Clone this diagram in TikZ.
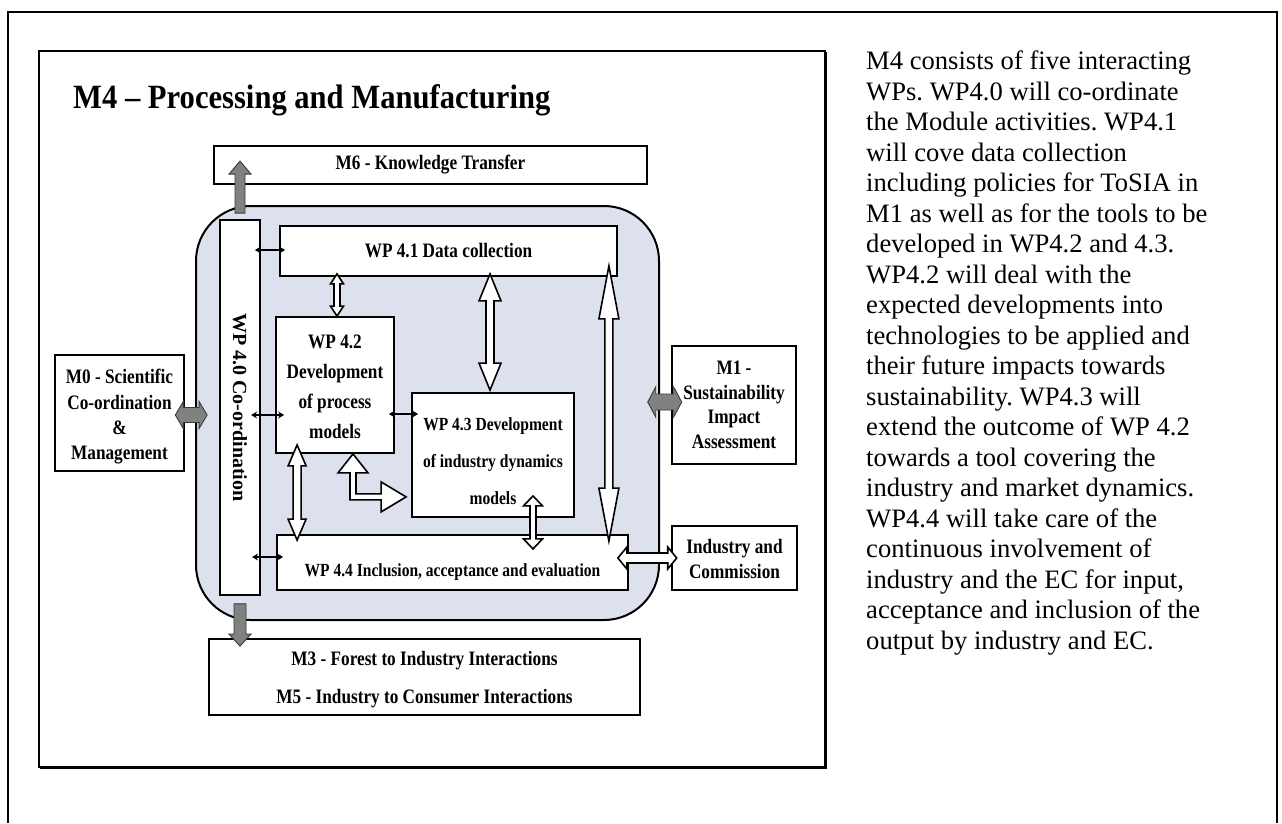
\documentclass[tikz,border=0pt]{standalone}
\usepackage{fontspec}
\setmainfont{Liberation Serif}
\newfontfamily\lblfont[FakeStretch=0.84]{Liberation Serif}
\newfontfamily\ttlfont[FakeStretch=0.9]{Liberation Serif}
\usetikzlibrary{calc,arrows.meta}
\definecolor{panelfill}{RGB}{220,225,237}
\definecolor{blockgray}{RGB}{128,130,128}
\frenchspacing

% vertical arrow with a head at both ends: style, end A, end B, shaft half width, head half width, head length
\newcommand\vdouble[6]{%
  \path[#1] let \p1=#2, \p2=#3, \n1={sign(\y2-\y1)} in
    (\x1,\y1) -- (\x1+#5pt,\y1+\n1*#6pt) -- (\x1+#4pt,\y1+\n1*#6pt)
    -- (\x1+#4pt,\y2-\n1*#6pt) -- (\x1+#5pt,\y2-\n1*#6pt) -- (\x1,\y2)
    -- (\x1-#5pt,\y2-\n1*#6pt) -- (\x1-#4pt,\y2-\n1*#6pt)
    -- (\x1-#4pt,\y1+\n1*#6pt) -- (\x1-#5pt,\y1+\n1*#6pt) -- cycle;}
% horizontal arrow with a head at both ends
\newcommand\hdouble[6]{%
  \path[#1] let \p1=#2, \p2=#3, \n1={sign(\x2-\x1)} in
    (\x1,\y1) -- (\x1+\n1*#6pt,\y1+#5pt) -- (\x1+\n1*#6pt,\y1+#4pt)
    -- (\x2-\n1*#6pt,\y1+#4pt) -- (\x2-\n1*#6pt,\y1+#5pt) -- (\x2,\y1)
    -- (\x2-\n1*#6pt,\y1-#5pt) -- (\x2-\n1*#6pt,\y1-#4pt)
    -- (\x1+\n1*#6pt,\y1-#4pt) -- (\x1+\n1*#6pt,\y1-#5pt) -- cycle;}
% vertical arrow with one head: style, tail, tip, shaft half width, head half width, head length
\newcommand\vsingle[6]{%
  \path[#1] let \p1=#2, \p2=#3, \n1={sign(\y2-\y1)} in
    (\x1-#4pt,\y1) -- (\x1-#4pt,\y2-\n1*#6pt) -- (\x1-#5pt,\y2-\n1*#6pt)
    -- (\x1,\y2) -- (\x1+#5pt,\y2-\n1*#6pt) -- (\x1+#4pt,\y2-\n1*#6pt)
    -- (\x1+#4pt,\y1) -- cycle;}
% L-shaped arrow: head pointing up at the first end, head pointing right at the second
\newcommand\bentarrow[3]{%
  \path[#1] let \p1=#2, \p2=#3 in
    (\x1,\y1) -- (\x1+15pt,\y1-19pt) -- (\x1+3pt,\y1-19pt)
    -- (\x1+3pt,\y2+3pt) -- (\x2-25pt,\y2+3pt) -- (\x2-25pt,\y2+15pt)
    -- (\x2,\y2) -- (\x2-25pt,\y2-15pt) -- (\x2-25pt,\y2-3pt)
    -- (\x1-3pt,\y2-3pt) -- (\x1-3pt,\y1-19pt) -- (\x1-15pt,\y1-19pt) -- cycle;}

\begin{document}
\begin{tikzpicture}[x=1pt,y=-1pt,
  lbl/.style={font=\lblfont\bfseries\fontsize{20.5}{25}\selectfont},
  box/.style={draw=black, line width=1.8pt, fill=white, inner sep=0pt,
    align=center, lbl},
  heavybox/.style={box, line width=2.6pt},
  panel/.style={draw=black, line width=2pt, fill=panelfill, rounded corners=55pt,
    inner sep=0pt},
  hollow/.style={draw=black, line width=1.6pt, fill=white, line join=miter},
  block/.style={draw=gray!45!black, line width=0.9pt, fill=blockgray},
  thin/.style={{Stealth[length=6pt,width=7pt]}-{Stealth[length=6pt,width=7pt]},
    line width=1.3pt},
]
\useasboundingbox (0,0) rectangle (1282,823);

% page frame and figure frame with its shadow
\draw[line width=1.3pt] (8,823) -- (8,12) -- (1277,12) -- (1277,823);
\draw[line width=1.2pt] (39,51) rectangle (825,767);
\draw[line width=3pt] (40,767) -- (825,767) -- (825,52);

% title
\node[anchor=base west, inner sep=0pt,
  font=\ttlfont\bfseries\fontsize{34}{40}\selectfont] (title) at (73,108)
  {M4 – Processing and Manufacturing};

% module M4 panel
\node[panel, minimum width=463pt, minimum height=414pt] (m4) at (427.5,413) {};

% surrounding modules
\node[box, minimum width=433pt, minimum height=38pt] (m6) at (430.5,165)
  {M6 - Knowledge Transfer};
\node[box, minimum width=431pt, minimum height=76pt,
  font=\lblfont\bfseries\fontsize{20.5}{38}\selectfont] (m3) at (424.5,677)
  {\rule{0pt}{19pt}M3 - Forest to Industry Interactions\\M5 - Industry to Consumer Interactions};
\node[heavybox, minimum width=129pt, minimum height=116pt,
  font=\lblfont\bfseries\fontsize{20.5}{25.3}\selectfont] (m0) at (119.5,413)
  {\rule{0pt}{22pt}M0 - Scientific\\Co-ordination\\\&\\Management};
\node[heavybox, minimum width=124pt, minimum height=118pt,
  font=\lblfont\bfseries\fontsize{20.5}{24.5}\selectfont] (m1) at (734,405)
  {M1 -\\Sustainability\\Impact\\Assessment};
\node[heavybox, minimum width=125pt, minimum height=64pt,
  font=\lblfont\bfseries\fontsize{20.5}{25}\selectfont] (ind) at (734.5,558)
  {\rule{0pt}{17pt}Industry and\\Commission};

% work packages
\node[box, minimum width=40pt, minimum height=375pt] (wp40) at (240,407.5) {};
\node[rotate=-90, inner sep=0pt, font=\bfseries\fontsize{20}{24}\selectfont]
  (wp40t) at (wp40.center) {WP 4.0 Co-ordination};
\node[box, minimum width=337pt, minimum height=50pt] (wp41) at (448.5,251)
  {WP 4.1 Data collection};
\node[box, minimum width=118pt, minimum height=136pt,
  font=\lblfont\bfseries\fontsize{20.5}{30}\selectfont] (wp42) at (335,385)
  {\rule{0pt}{18pt}WP 4.2\\Development\\of process\\models};
\node[box, minimum width=162pt, minimum height=124pt,
  font=\lblfont\bfseries\fontsize{18.5}{37}\selectfont] (wp43) at (493,455)
  {\rule{0pt}{25pt}WP 4.3 Development\\of industry dynamics\\models};
\node[box, minimum width=351pt, minimum height=55pt, text height=32pt, text depth=4pt,
  font=\lblfont\bfseries\fontsize{18.5}{22}\selectfont] (wp44) at (452.5,562.5)
  {WP 4.4 Inclusion, acceptance and evaluation};

% links from the co-ordination package
\draw[thin] ($(wp40.east |- wp41.west)+(-6,-1)$) -- ($(wp41.west)+(6,-1)$);
\draw[thin] ($(wp42.west)+(-24,30)$) -- ($(wp42.west)+(9,30)$);
\draw[thin] ($(wp44.west)+(-24,-5.5)$) -- ($(wp44.west)+(7,-5.5)$);
\draw[thin] ($(wp42.east)+(-6,29)$) -- ($(wp43.west)+(7,-41)$);

% exchanges between work packages
\vdouble{hollow}{($(wp42.north |- wp41.south)+(2,-3)$)}{($(wp42.north)+(2,0)$)}{3}{6.5}{10}
\vdouble{hollow}{($(wp43.north |- wp41.south)+(-3,-3)$)}{($(wp43.north)+(-3,-2)$)}{4}{11}{27}
\vdouble{hollow}{($(wp41.south east)+(-9,-11)$)}{($(wp44.north east)+(-20,7)$)}{4}{10}{53}
\vdouble{hollow}{($(wp42.south west)+(22,-9)$)}{($(wp44.north west)+(21,6)$)}{4}{9}{21}
\vdouble{hollow}{($(wp43.south)+(40,-22)$)}{($(wp43.south)+(40,31)$)}{3}{9.5}{10}
\hdouble{hollow}{($(wp44.east)+(-11,-4.5)$)}{($(ind.west)+(6,0)$)}{5}{11}{9}
\bentarrow{hollow}{($(wp42.south)+(18,0)$)}{($(wp43.south west)+(-5,-21)$)}

% exchanges with the other modules
\vsingle{block}{($(wp40.north)+(0,-6)$)}{($(wp40.north |- m6.north)+(0,16)$)}{5}{11}{13}
\vsingle{block}{($(wp40.south)+(0,8)$)}{($(wp40.south |- m3.north)+(0,8)$)}{6}{11}{12}
\hdouble{block}{($(m0.east)+(-10,2)$)}{($(wp40.west)+(-12,7.5)$)}{7.5}{13.5}{8}
\hdouble{block}{($(m1.west)+(-23,-3)$)}{($(m1.west)+(11,-3)$)}{8}{15}{8}

% description
\node[anchor=north west, inner sep=0pt, align=left,
  font=\fontsize{26.6}{30.5}\selectfont] (desc) at (866,51)
  {M4 consists of five interacting\\
   WPs. WP4.0 will co-ordinate\\
   the Module activities. WP4.1\\
   will cove data collection\\
   including policies for ToSIA in\\
   M1 as well as for the tools to be\\
   developed in WP4.2 and 4.3.\\
   WP4.2 will deal with the\\
   expected developments into\\
   technologies to be applied and\\
   their future impacts towards\\
   sustainability. WP4.3 will\\
   extend the outcome of WP 4.2\\
   towards a tool covering the\\
   industry and market dynamics.\\
   WP4.4 will take care of the\\
   continuous involvement of\\
   industry and the EC for input,\\
   acceptance and inclusion of the\\
   output by industry and EC.};
\end{tikzpicture}
\end{document}
